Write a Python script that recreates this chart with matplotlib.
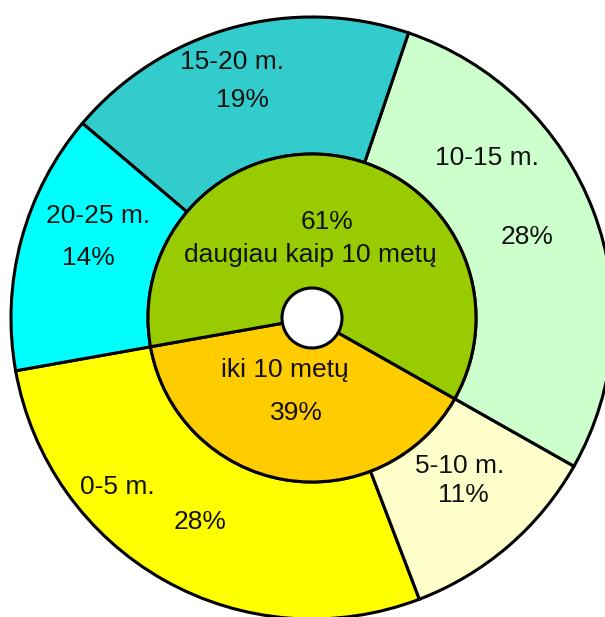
import matplotlib.pyplot as plt

# Outer ring: age groups (years), share in %.
outer_labels = ['0-5 m.', '5-10 m.', '10-15 m.', '15-20 m.', '20-25 m.']
outer_values = [28, 11, 28, 19, 14]
outer_colors = ['#FFFF00', '#FFFFCC', '#CCFFCC', '#33CCCC', '#00FFFF']

# Inner ring: under / over 10 years.
inner_labels = ['iki 10 metų', 'daugiau kaip 10 metų']
inner_values = [39, 61]
inner_colors = ['#FFCC00', '#99CC00']

plt.rcParams['font.family'] = ['Liberation Sans', 'DejaVu Sans']

fig = plt.figure(figsize=(6.05, 6.17), dpi=100)
ax = fig.add_axes([0, 0, 1, 1])

center = (312, 299)
r_out, r_in, r_hole = 301, 164, 30
start = 190.1
edge = dict(edgecolor='black', linewidth=2.2)

ax.pie(outer_values, colors=outer_colors, startangle=start, counterclock=True,
       radius=r_out, center=center, frame=True,
       wedgeprops=dict(width=r_out - r_in, **edge))
ax.pie(inner_values, colors=inner_colors, startangle=start, counterclock=True,
       radius=r_in, center=center, frame=True,
       wedgeprops=dict(width=r_in - r_hole, **edge))

ax.set_xlim(0, 605)
ax.set_ylim(0, 617)
ax.set_aspect('equal')
ax.axis('off')

# Label layout in pixels from the top-left corner.
text_pos = [
    ('15-20 m.', 232, 62), (f'{outer_values[3]}%', 242, 100),
    ('10-15 m.', 487, 158), (f'{outer_values[2]}%', 527, 237),
    ('20-25 m.', 98, 216), (f'{outer_values[4]}%', 88, 258),
    (f'{inner_values[1]}%', 327, 222), (inner_labels[1], 310, 255),
    (inner_labels[0], 285, 370), (f'{inner_values[0]}%', 296, 413),
    ('5-10 m.', 460, 466), (f'{outer_values[1]}%', 463, 495),
    ('0-5 m.', 117, 487), (f'{outer_values[0]}%', 200, 522),
]
for s, x, y in text_pos:
    ax.text(x, 617 - y, s, ha='center', va='center', fontsize=19,
            color='#111111')

plt.savefig('out.png', dpi=100)
